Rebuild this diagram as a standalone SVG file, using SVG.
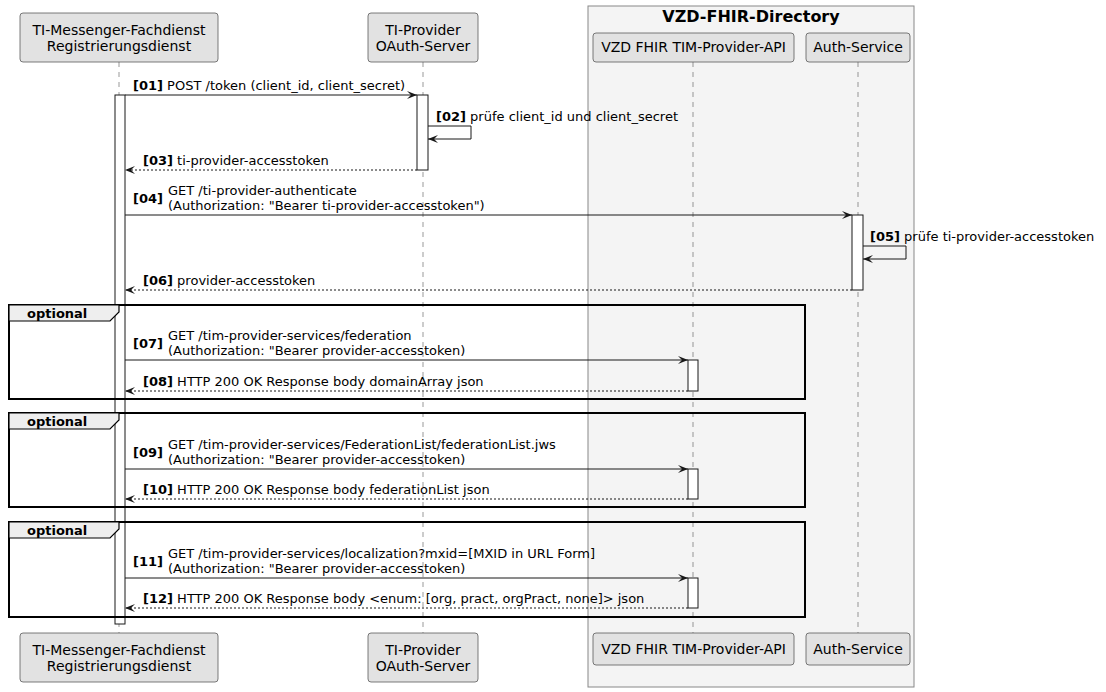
<svg xmlns="http://www.w3.org/2000/svg" width="1106" height="692" viewBox="0 0 1106 692">
<defs>
<style>
.pbox{fill:#E2E2E2;stroke:#5A5A5A;stroke-width:0.8}
.ptxt{font-family:"DejaVu Sans",sans-serif;font-size:14px;fill:#000;text-anchor:middle}
.life{stroke:#555;stroke-width:0.6;stroke-dasharray:5,5;fill:none}
.act{fill:#FFF;stroke:#181818;stroke-width:1}
.msg{stroke:#181818;stroke-width:1;fill:none;marker-end:url(#ah)}
.ret{stroke:#181818;stroke-width:1;fill:none;stroke-dasharray:2,2;marker-end:url(#ah)}
.mt{font-family:"DejaVu Sans",sans-serif;font-size:13px;fill:#000}
.num{font-weight:bold}
.frame{fill:none;stroke:#000;stroke-width:2}
.tab{fill:#EEEEEE;stroke:#000;stroke-width:1.2}
.ftxt{font-family:"DejaVu Sans",sans-serif;font-size:13px;font-weight:bold;fill:#000}
</style>
<marker id="ah" viewBox="0 0 10 8" refX="10" refY="4" markerWidth="10" markerHeight="8" markerUnits="userSpaceOnUse" orient="auto">
<path d="M0,0 L10,4 L0,8 L4,4 Z" fill="#181818"/>
</marker>
</defs>
<rect width="1106" height="692" fill="#FFFFFF"/>
<g id="vzd-group">
<rect x="588" y="6" width="326" height="681" fill="#F4F4F4" stroke="#888" stroke-width="1"/>
<text x="751" y="22" font-family="DejaVu Sans,sans-serif" font-size="16" font-weight="bold" text-anchor="middle">VZD-FHIR-Directory</text>
</g>
<g id="lifelines">
<line class="life" x1="119" y1="62" x2="119" y2="633"/>
<line class="life" x1="423" y1="62" x2="423" y2="633"/>
<line class="life" x1="693" y1="62" x2="693" y2="633"/>
<line class="life" x1="858" y1="62" x2="858" y2="633"/>
</g>
<g id="p-fachdienst">
<rect class="pbox" x="20" y="13" width="198" height="49" rx="3"/>
<text class="ptxt" x="119" y="35">TI-Messenger-Fachdienst</text>
<text class="ptxt" x="119" y="51">Registrierungsdienst</text>
<rect class="pbox" x="20" y="633" width="198" height="49" rx="3"/>
<text class="ptxt" x="119" y="655">TI-Messenger-Fachdienst</text>
<text class="ptxt" x="119" y="671">Registrierungsdienst</text>
</g>
<g id="p-oauth">
<rect class="pbox" x="368" y="13" width="110" height="49" rx="3"/>
<text class="ptxt" x="423" y="35">TI-Provider</text>
<text class="ptxt" x="423" y="51">OAuth-Server</text>
<rect class="pbox" x="368" y="633" width="110" height="49" rx="3"/>
<text class="ptxt" x="423" y="655">TI-Provider</text>
<text class="ptxt" x="423" y="671">OAuth-Server</text>
</g>
<g id="p-api">
<rect class="pbox" x="593" y="33" width="201" height="29" rx="3"/>
<text class="ptxt" x="693.5" y="52">VZD FHIR TIM-Provider-API</text>
<rect class="pbox" x="593" y="633" width="201" height="32" rx="3"/>
<text class="ptxt" x="693.5" y="654">VZD FHIR TIM-Provider-API</text>
</g>
<g id="p-auth">
<rect class="pbox" x="806" y="33" width="104" height="29" rx="3"/>
<text class="ptxt" x="858" y="52">Auth-Service</text>
<rect class="pbox" x="806" y="633" width="104" height="32" rx="3"/>
<text class="ptxt" x="858" y="654">Auth-Service</text>
</g>
<g id="activations">
<rect class="act" x="115" y="95" width="10" height="529"/>
<rect class="act" x="417" y="95" width="11" height="75"/>
<rect class="act" x="852" y="215" width="11" height="75"/>
<rect class="act" x="688" y="360" width="10" height="31"/>
<rect class="act" x="688" y="469" width="10" height="30"/>
<rect class="act" x="688" y="578" width="10" height="30"/>
</g>
<g id="frames">
<rect class="frame" x="9" y="305" width="796" height="94"/>
<path class="tab" d="M9,305 H119 V312 L110,321 H9 Z"/>
<text class="ftxt" x="27" y="318">optional</text>
<rect class="frame" x="9" y="413" width="796" height="94"/>
<path class="tab" d="M9,413 H119 V420 L110,429 H9 Z"/>
<text class="ftxt" x="27" y="426">optional</text>
<rect class="frame" x="9" y="522" width="796" height="95"/>
<path class="tab" d="M9,522 H119 V529 L110,538 H9 Z"/>
<text class="ftxt" x="27" y="535">optional</text>
</g>
<g id="connectors">
<line class="msg" x1="125" y1="95" x2="417" y2="95"/>
<path class="msg" d="M428,126 H471 V139 H428"/>
<line class="ret" x1="417" y1="170" x2="125" y2="170"/>
<line class="msg" x1="125" y1="215" x2="852" y2="215"/>
<path class="msg" d="M863,246 H906 V259 H863"/>
<line class="ret" x1="852" y1="290" x2="125" y2="290"/>
<line class="msg" x1="125" y1="360" x2="688" y2="360"/>
<line class="ret" x1="688" y1="391" x2="125" y2="391"/>
<line class="msg" x1="125" y1="469" x2="688" y2="469"/>
<line class="ret" x1="688" y1="499" x2="125" y2="499"/>
<line class="msg" x1="125" y1="578" x2="688" y2="578"/>
<line class="ret" x1="688" y1="608" x2="125" y2="608"/>
</g>
<g id="labels">
<text class="mt" x="133" y="90"><tspan class="num">[01]</tspan> POST /token (client_id, client_secret)</text>
<text class="mt" x="436" y="121"><tspan class="num">[02]</tspan> prüfe client_id und client_secret</text>
<text class="mt" x="143" y="165"><tspan class="num">[03]</tspan> ti-provider-accesstoken</text>
<text class="mt num" x="133" y="203">[04]</text>
<text class="mt" x="168" y="195">GET /ti-provider-authenticate</text>
<text class="mt" x="168" y="210">(Authorization: "Bearer ti-provider-accesstoken")</text>
<text class="mt" x="870" y="241"><tspan class="num">[05]</tspan> prüfe ti-provider-accesstoken</text>
<text class="mt" x="143" y="285"><tspan class="num">[06]</tspan> provider-accesstoken</text>
<text class="mt num" x="133" y="348">[07]</text>
<text class="mt" x="168" y="340">GET /tim-provider-services/federation</text>
<text class="mt" x="168" y="355">(Authorization: "Bearer provider-accesstoken)</text>
<text class="mt" x="143" y="386"><tspan class="num">[08]</tspan> HTTP 200 OK Response body domainArray json</text>
<text class="mt num" x="133" y="457">[09]</text>
<text class="mt" x="168" y="449">GET /tim-provider-services/FederationList/federationList.jws</text>
<text class="mt" x="168" y="464">(Authorization: "Bearer provider-accesstoken)</text>
<text class="mt" x="143" y="494"><tspan class="num">[10]</tspan> HTTP 200 OK Response body federationList json</text>
<text class="mt num" x="133" y="566">[11]</text>
<text class="mt" x="168" y="558">GET /tim-provider-services/localization?mxid=[MXID in URL Form]</text>
<text class="mt" x="168" y="573">(Authorization: "Bearer provider-accesstoken)</text>
<text class="mt" x="143" y="603"><tspan class="num">[12]</tspan> HTTP 200 OK Response body &lt;enum: [org, pract, orgPract, none]&gt; json</text>
</g>
</svg>
